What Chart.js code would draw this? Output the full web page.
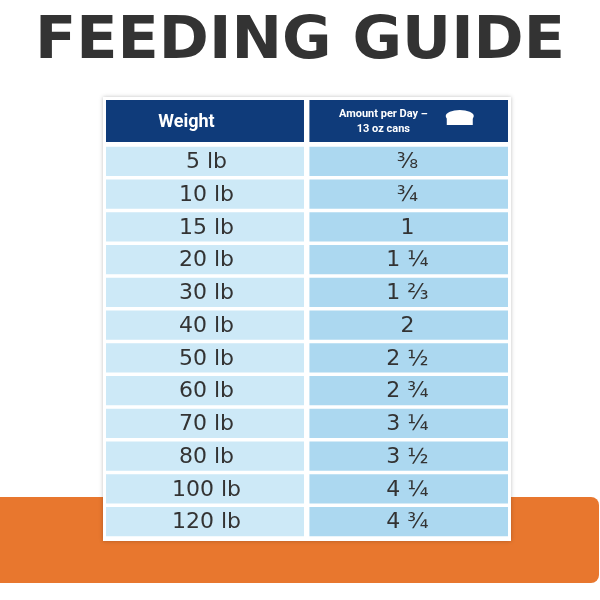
<!DOCTYPE html>
<html lang="en">
<head>
<meta charset="UTF-8">
<title>Feeding Guide</title>
<script src="https://cdn.jsdelivr.net/npm/chart.js"></script>
<style>body{margin:0;background:#fff}</style>
</head>
<body>
<canvas id="guide" width="600" height="600"></canvas>
<script>
const weights = ['5 lb','10 lb','15 lb','20 lb','30 lb','40 lb','50 lb','60 lb','70 lb','80 lb','100 lb','120 lb'];
const amounts = ['⅜','¾','1','1 ¼','1 ⅔','2','2 ½','2 ¾','3 ¼','3 ½','4 ¼','4 ¾'];
const headers = ['Weight', 'Amount per Day –\n13 oz cans'];
const title = 'FEEDING GUIDE';

// each cell is a floating bar: column 1 spans 0..1, column 2 spans 1..2
const col1 = weights.map(() => [0, 0.985]);
const col2 = amounts.map(() => [1.012, 2]);

const decor = {
    id: 'decor',
    beforeDraw(chart) {
        const c = chart.ctx;
        c.save();
        c.fillStyle = '#e8772e';
        c.beginPath();
        c.roundRect(0, 497, 599, 86, [0, 8, 8, 0]);
        c.fill();
        c.fillStyle = '#333';
        c.font = 'bold 58px "DejaVu Sans", sans-serif';
        c.textBaseline = 'middle';
        const w = c.measureText(title).width;
        c.translate(35, 43);
        c.scale(530 / w, 1);
        c.fillText(title, 0, 0);
        c.restore();
        c.save();
        // table backing
        c.shadowColor = 'rgba(0,0,0,0.25)';
        c.shadowBlur = 4;
        c.fillStyle = '#fff';
        c.fillRect(103, 97, 408, 444);
        c.restore();
    },
    afterDatasetsDraw(chart) {
        const c = chart.ctx, x = chart.scales.x, y = chart.scales.y;
        c.save();
        // header cells
        c.fillStyle = '#0f3b7a';
        c.fillRect(x.getPixelForValue(0), 100, x.getPixelForValue(0.985) - x.getPixelForValue(0), 42);
        c.fillRect(x.getPixelForValue(1.012), 100, x.getPixelForValue(2) - x.getPixelForValue(1.012), 42);
        c.fillStyle = '#fff';
        c.textAlign = 'center';
        c.textBaseline = 'middle';
        c.font = 'bold 18px "Roboto", "Liberation Sans", sans-serif';
        c.fillText(headers[0], x.getPixelForValue(0.4), 122);
        c.font = 'bold 11px "Roboto", "Liberation Sans", sans-serif';
        const h2 = headers[1].split('\n');
        c.fillText(h2[0], x.getPixelForValue(1.38), 114);
        c.fillText(h2[1], x.getPixelForValue(1.38), 129);
        // bowl icon
        c.beginPath();
        c.ellipse(x.getPixelForValue(1.76), 116, 14, 6, 0, 0, Math.PI * 2);
        c.fill();
        c.fillRect(x.getPixelForValue(1.76) - 13, 116, 26, 9);
        // row text
        c.fillStyle = '#333';
        c.font = '22px "DejaVu Sans", sans-serif';
        weights.forEach((w, i) => {
            const py = y.getPixelForValue(i) + 1;
            c.fillText(w, x.getPixelForValue(0.5), py);
            c.fillText(amounts[i], x.getPixelForValue(1.5), py);
        });
        c.restore();
    }
};

new Chart(document.getElementById('guide'), {
    type: 'bar',
    data: {
        labels: weights,
        datasets: [
            { data: col1, backgroundColor: '#cde9f7', barPercentage: 0.9, categoryPercentage: 1, grouped: false },
            { data: col2, backgroundColor: '#acd8f0', barPercentage: 0.9, categoryPercentage: 1, grouped: false }
        ]
    },
    options: {
        indexAxis: 'y',
        responsive: false,
        animation: false,
        layout: { padding: { top: 145, bottom: 62, left: 106, right: 92 } },
        scales: {
            x: { display: false, min: 0, max: 2 },
            y: { display: false }
        },
        plugins: { legend: { display: false }, tooltip: { enabled: false } }
    },
    plugins: [decor]
});
</script>
</body>
</html>
